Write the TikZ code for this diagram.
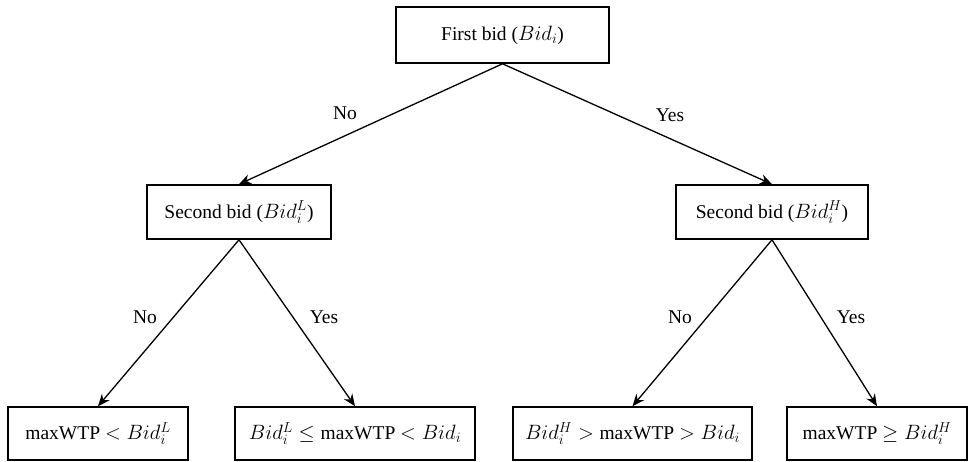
\documentclass[tikz,border=0pt]{standalone}
\usepackage{fontspec}
\setmainfont{Liberation Serif}
\usepackage{tikz}
\usetikzlibrary{arrows.meta}
\tikzset{
  box/.style={draw, line width=1.6pt, inner sep=0pt, font=\fontsize{19.5}{23}\selectfont},
  lbl/.style={inner sep=0pt, font=\fontsize{19.5}{23}\selectfont},
  arr/.style={line width=1.3pt, -{Stealth[length=12pt,width=10pt]}}
}
\begin{document}
\begin{tikzpicture}[x=1pt,y=1pt]
        \useasboundingbox (0,0) rectangle (971,461);
        % root
        \node[box, minimum width=213pt, minimum height=56pt] (first) at (502.5,426) {First bid ($Bid_i$)};
        % second bids
        \node[box, minimum width=184pt, minimum height=54pt] (secL) at (239,249) {Second bid ($Bid_i^L$)};
        \node[box, minimum width=192pt, minimum height=54pt] (secH) at (772,249) {Second bid ($Bid_i^H$)};
        % leaves
        \node[box, minimum width=180pt, minimum height=53pt] (leafA) at (98,27.5) {maxWTP $<Bid_i^L$};
        \node[box, minimum width=240pt, minimum height=53pt] (leafB) at (355,27.5) {$Bid_i^L\leq{}$maxWTP $<Bid_i$};
        \node[box, minimum width=239pt, minimum height=53pt] (leafC) at (632.5,27.5) {$Bid_i^H>{}$maxWTP $>Bid_i$};
        \node[box, minimum width=180pt, minimum height=53pt] (leafD) at (877,27.5) {maxWTP $\geq Bid_i^H$};
        % arrows
        \draw[arr] (first.south) -- (secL.north);
        \draw[arr] (first.south) -- (secH.north);
        \draw[arr] (secL.south) -- (leafA.north);
        \draw[arr] (secL.south) -- (leafB.north);
        \draw[arr] (secH.south) -- (leafC.north);
        \draw[arr] (secH.south) -- (leafD.north);
        % answers
        \node[lbl] (no1) at (345,348) {No};
        \node[lbl] (yes1) at (670,346) {Yes};
        \node[lbl] (no2) at (145,144) {No};
        \node[lbl] (yes2) at (324,144) {Yes};
        \node[lbl] (no3) at (680,144) {No};
        \node[lbl] (yes3) at (851,144) {Yes};
\end{tikzpicture}
\end{document}
